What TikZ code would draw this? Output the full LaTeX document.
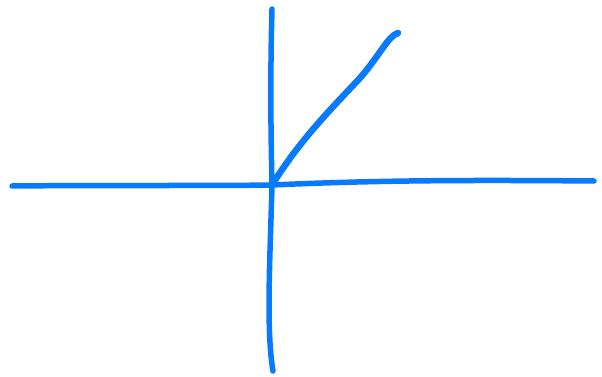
\documentclass[tikz,border=0pt]{standalone}
\definecolor{penblue}{RGB}{8,122,255}
\tikzset{
  pen/.style={draw=penblue, line width=5.5pt, line cap=round, line join=round},
}
\begin{document}
\begin{tikzpicture}[x=1pt, y=-1pt]
			\useasboundingbox (0, 0) rectangle (602, 377);
			% origin of the sketch
			\coordinate (o) at (272, 185);

			% horizontal axis
			\draw[pen] (12, 186) .. controls (120, 185) and (200, 186) .. (o)
				.. controls (380, 180) and (480, 180) .. (594, 181);

			% vertical axis
			\draw[pen] (272, 9) .. controls (270, 80) and (271, 140) .. (o)
				.. controls (270, 260) and (266, 330) .. (273, 371);

			% ramp
			\draw[pen, line width=6.5pt] (o) .. controls (300, 140) and (330, 110) .. (360, 78)
				.. controls (380, 55) and (388, 36) .. (398, 33);
		\end{tikzpicture}
\end{document}
